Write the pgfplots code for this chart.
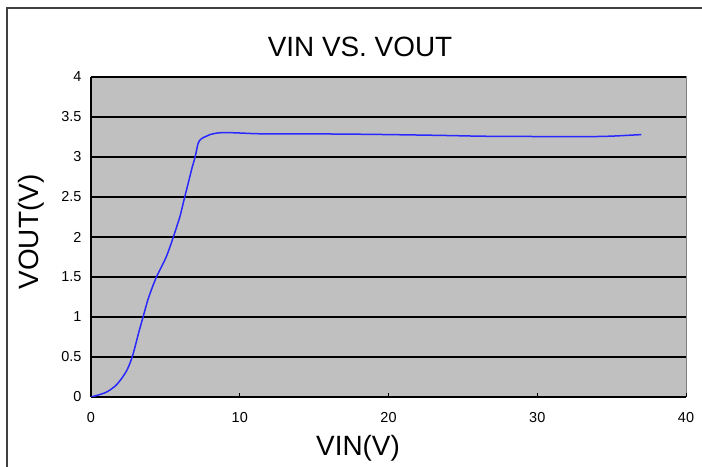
\documentclass[border=0pt]{standalone}
\usepackage{fontspec}
\setmainfont{Liberation Sans}
\usepackage{pgfplots}
\pgfplotsset{compat=1.18}
\definecolor{plotgray}{RGB}{192,192,192}
\definecolor{framegray}{RGB}{64,64,64}
\definecolor{curveblue}{RGB}{40,40,255}
\begin{document}
\begin{tikzpicture}[x=1bp,y=1bp]
\useasboundingbox (0,0) rectangle (702,467);
\draw[framegray, line width=1.4bp] (7,0) -- (7,459) -- (702,459);
\node[font=\fontsize{28}{28}\selectfont, anchor=base] at (360,410) {VIN VS. VOUT};
\node[font=\fontsize{28}{28}\selectfont, rotate=90] at (31,235) {VOUT(V)};
\node[font=\fontsize{28}{28}\selectfont] at (358,19) {VIN(V)};
\begin{axis}[
  at={(91bp,70bp)}, anchor=south west,
  width=595bp, height=320bp, scale only axis,
  xmin=0, xmax=40, ymin=0, ymax=4,
  xtick={0,10,20,30,40}, ytick={0,0.5,1,1.5,2,2.5,3,3.5,4},
  yticklabels={0,0.5,1,1.5,2,2.5,3,3.5,4},
  xticklabels={0,10,20,30,40},
  axis background/.style={fill=plotgray, draw=gray, line width=1bp},
  axis x line*=bottom, axis y line*=left,
  axis line style={black, line width=1.2bp, -},
  ymajorgrids, grid style={black, line width=1.3bp},
  xtick align=inside, ytick align=outside,
  major tick length=4bp,
  tick style={black, line width=1bp},
  ytick style={draw=none},
  xtick style={draw=black},
  xticklabel style={font=\fontsize{14.5}{14.5}\selectfont, yshift=-12bp},
  yticklabel style={font=\fontsize{14.5}{14.5}\selectfont, xshift=-2bp},
  /pgf/number format/assume math mode=true,
]
\addplot[curveblue, line width=1.5bp, smooth, tension=0.55, mark=none] coordinates {
(0,0) (0.4,0.02) (0.9,0.05) (1.3,0.09) (1.8,0.17) (2.4,0.33) (2.8,0.52)
(3.2,0.8) (3.5,1.0) (3.8,1.2) (4.1,1.36) (4.4,1.50) (4.8,1.65) (5.1,1.77)
(5.5,1.98) (5.8,2.15) (6.0,2.27) (6.3,2.5) (6.6,2.72) (6.8,2.87) (7.0,3.0)
(7.2,3.17) (7.4,3.225) (7.7,3.255) (8.0,3.28) (8.5,3.30) (9.1,3.305) (10,3.30)
(11.4,3.29) (14,3.29) (17.7,3.285) (20,3.28) (23.5,3.27) (26.2,3.26) (28,3.258)
(30.9,3.255) (33.5,3.255) (34.9,3.26) (36.2,3.272) (37,3.28)
};
\end{axis}
\end{tikzpicture}
\end{document}
